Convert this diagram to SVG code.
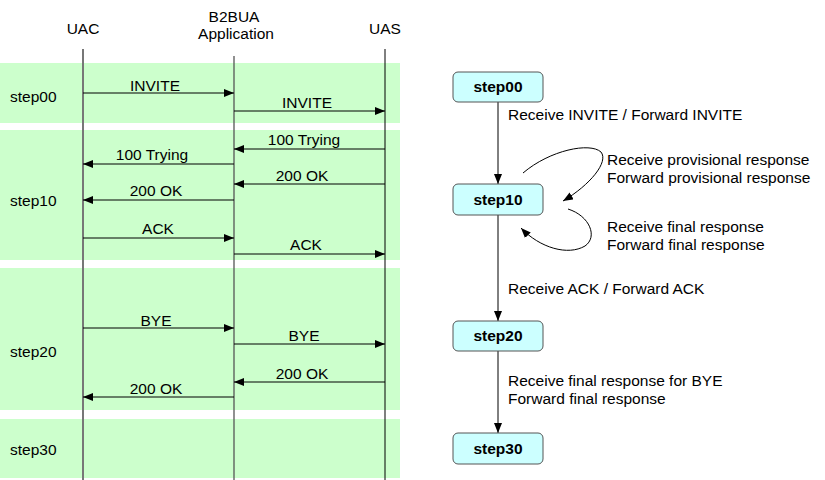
<svg xmlns="http://www.w3.org/2000/svg" width="825" height="480" viewBox="0 0 825 480">
<defs>
<marker id="ah" viewBox="0 0 10 8" refX="10" refY="4" markerWidth="10" markerHeight="8" markerUnits="userSpaceOnUse" orient="auto">
<path d="M0,0 L10,4 L0,8 Z" fill="#000"/>
</marker>
</defs>
<style>
text{font-family:"Liberation Sans",Arial,sans-serif;font-size:15.5px;fill:#000}
.c{text-anchor:middle}
.b{font-weight:bold;font-size:15.5px;text-anchor:middle}
.band{fill:#ccffcc}
.msg{stroke:#000;stroke-width:1;fill:none;marker-end:url(#ah)}
.box{fill:#ccffff;stroke:#555;stroke-width:1}
</style>
<rect width="825" height="480" fill="#fff"/>
<g id="bands">
<rect class="band" x="0" y="63" width="400" height="60"/>
<rect class="band" x="0" y="130" width="400" height="130"/>
<rect class="band" x="0" y="268" width="400" height="142"/>
<rect class="band" x="0" y="419" width="400" height="59"/>
<text x="10" y="102">step00</text>
<text x="10" y="206">step10</text>
<text x="10" y="357">step20</text>
<text x="10" y="455">step30</text>
</g>
<g id="lifelines">
<text class="c" x="83" y="34">UAC</text>
<text class="c" x="234" y="22">B2BUA</text>
<text class="c" x="236" y="39">Application</text>
<text class="c" x="385" y="34">UAS</text>
<line x1="83" y1="49" x2="83" y2="480" stroke="#777" stroke-width="2"/>
<line x1="234" y1="56" x2="234" y2="480" stroke="#555" stroke-width="1.3"/>
<line x1="385" y1="49" x2="385" y2="480" stroke="#000" stroke-width="1"/>
</g>
<g id="messages">
<line class="msg" x1="83" y1="93" x2="234" y2="93"/>
<text class="c" x="155" y="91">INVITE</text>
<line class="msg" x1="234" y1="111" x2="385" y2="111"/>
<text class="c" x="307" y="108">INVITE</text>
<line class="msg" x1="385" y1="149" x2="234" y2="149"/>
<text class="c" x="304" y="145">100 Trying</text>
<line class="msg" x1="234" y1="164" x2="83" y2="164"/>
<text class="c" x="152" y="160">100 Trying</text>
<line class="msg" x1="385" y1="184" x2="234" y2="184"/>
<text class="c" x="302" y="181">200 OK</text>
<line class="msg" x1="234" y1="200" x2="83" y2="200"/>
<text class="c" x="156" y="196">200 OK</text>
<line class="msg" x1="83" y1="238" x2="234" y2="238"/>
<text class="c" x="158" y="234">ACK</text>
<line class="msg" x1="234" y1="254" x2="385" y2="254"/>
<text class="c" x="306" y="250">ACK</text>
<line class="msg" x1="83" y1="328" x2="234" y2="328"/>
<text class="c" x="156" y="326">BYE</text>
<line class="msg" x1="234" y1="344" x2="385" y2="344"/>
<text class="c" x="304" y="341">BYE</text>
<line class="msg" x1="385" y1="382" x2="234" y2="382"/>
<text class="c" x="302" y="379">200 OK</text>
<line class="msg" x1="234" y1="397" x2="83" y2="397"/>
<text class="c" x="156" y="394">200 OK</text>
</g>
<g id="connectors">
<line class="msg" x1="498" y1="102" x2="498" y2="184"/>
<line class="msg" x1="498" y1="215" x2="498" y2="321"/>
<line class="msg" x1="498" y1="351" x2="498" y2="433"/>
<path class="msg" d="M523,173 C550,150 590,142 601,152 C609,162 590,185 563,201"/>
<path class="msg" d="M568,209 C590,216 598,237 585,246 C568,256 540,248 521,228"/>
<text x="508" y="120">Receive INVITE / Forward INVITE</text>
<text x="607" y="165">Receive provisional response</text>
<text x="607" y="183">Forward provisional response</text>
<text x="607" y="232">Receive final response</text>
<text x="607" y="250">Forward final response</text>
<text x="508" y="294">Receive ACK / Forward ACK</text>
<text x="508" y="386">Receive final response for BYE</text>
<text x="508" y="404">Forward final response</text>
</g>
<g id="step00"><rect class="box" x="453" y="72" width="90" height="30" rx="5"/><text class="b" x="498" y="92">step00</text></g>
<g id="step10"><rect class="box" x="453" y="184" width="90" height="31" rx="5"/><text class="b" x="498" y="205">step10</text></g>
<g id="step20"><rect class="box" x="453" y="321" width="90" height="30" rx="5"/><text class="b" x="498" y="341">step20</text></g>
<g id="step30"><rect class="box" x="453" y="433" width="90" height="31" rx="5"/><text class="b" x="498" y="454">step30</text></g>
</svg>
